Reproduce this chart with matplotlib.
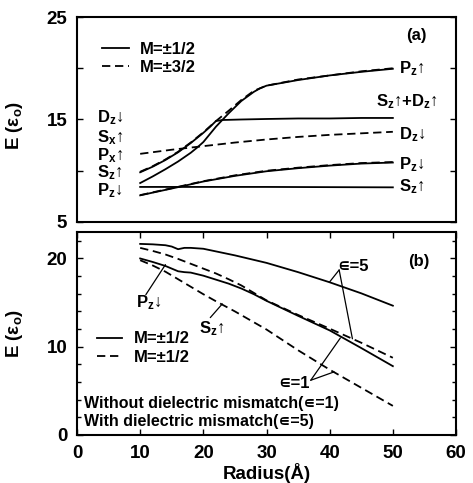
import matplotlib
matplotlib.use("Agg")
import matplotlib.pyplot as plt
from matplotlib.ticker import MultipleLocator

plt.rcParams['font.family'] = ['Liberation Sans', 'DejaVu Sans']
plt.rcParams['font.weight'] = 'bold'
plt.rcParams['mathtext.fontset'] = 'custom'
plt.rcParams['mathtext.rm'] = 'Liberation Sans:bold'
plt.rcParams['mathtext.it'] = 'Liberation Sans:bold'
plt.rcParams['mathtext.bf'] = 'Liberation Sans:bold'

# ---------------- Panel (a) data ----------------
r_pzup_d = [10, 12, 14, 16, 18, 20, 22, 24, 26, 28, 30, 35, 40, 45, 50]
pzup_m32 = [9.9, 10.45, 11.1, 11.85, 12.75, 13.75, 14.85, 15.85, 16.9, 17.8, 18.3, 18.9, 19.3, 19.7, 20.0]

r_pzup_s = [10, 12, 14, 16, 18, 19, 20, 22, 23, 24, 26, 28, 29, 30, 35, 40, 45, 50]
pzup_m12 = [8.8, 9.45, 10.15, 10.9, 11.75, 12.25, 12.8, 14.3, 14.95, 15.6, 16.8, 17.7, 18.05, 18.3, 18.85, 19.3, 19.65, 19.95]

r_sd = [10, 12, 14, 16, 18, 20, 21, 22, 23, 26, 30, 35, 40, 45, 50]
szdz_m12 = [9.85, 10.4, 11.05, 11.8, 12.7, 13.7, 14.25, 14.85, 14.95, 15.0, 15.05, 15.1, 15.1, 15.15, 15.15]

r_dz = [10, 15, 20, 25, 30, 35, 40, 45, 50]
dzdn_m32 = [11.65, 12.05, 12.4, 12.75, 13.05, 13.3, 13.5, 13.65, 13.8]

r_sz = [10, 20, 30, 40, 50]
szup_m12 = [8.42, 8.42, 8.42, 8.4, 8.38]

r_pzdn = [10, 13, 16, 20, 25, 30, 35, 40, 45, 50]
pzdn_m12 = [7.6, 8.0, 8.4, 8.95, 9.5, 9.95, 10.25, 10.5, 10.7, 10.8]
pzdn_m32 = [7.62, 8.03, 8.43, 8.98, 9.55, 10.0, 10.3, 10.55, 10.75, 10.85]

# ---------------- Panel (b) data ----------------
r_b_top = [10, 12, 14, 15, 16, 17, 18, 20, 22, 25, 30, 35, 40, 45, 50]
pzdn_eps5 = [21.65, 21.6, 21.5, 21.35, 21.05, 21.2, 21.2, 21.1, 20.8, 20.35, 19.5, 18.45, 17.3, 16.05, 14.65]

r_b_d5 = [10, 12, 14, 16, 18, 20, 22, 24, 26, 28, 30, 35, 40, 45, 50]
szup_eps5 = [21.2, 20.85, 20.45, 19.95, 19.4, 18.85, 18.3, 17.65, 16.95, 16.1, 15.25, 13.6, 12.05, 10.45, 8.75]

r_b_s1 = [10, 12, 14, 15, 16, 17, 18, 20, 22, 24, 26, 28, 30, 35, 40, 45, 50]
pzdn_eps1 = [20.0, 19.6, 19.15, 18.85, 18.55, 18.45, 18.4, 18.05, 17.6, 17.15, 16.6, 15.95, 15.2, 13.5, 11.85, 9.85, 7.8]

r_b_d1 = [10, 12, 14, 16, 18, 20, 22, 25, 30, 35, 40, 45, 50]
szup_eps1 = [19.8, 19.2, 18.5, 17.65, 16.8, 15.95, 15.15, 14.0, 11.95, 9.6, 7.4, 5.35, 3.3]

left_labels = ['D$_\\mathregular{z}$↓', 'S$_\\mathregular{x}$↑', 'P$_\\mathregular{x}$↑',
               'S$_\\mathregular{z}$↑', 'P$_\\mathregular{z}$↓']
left_label_y = [15.15, 13.2, 11.5, 9.8, 8.1]
right_labels = ['P$_\\mathregular{z}$↑', 'S$_\\mathregular{z}$↑+D$_\\mathregular{z}$↑', 'D$_\\mathregular{z}$↓',
                'P$_\\mathregular{z}$↓', 'S$_\\mathregular{z}$↑']
right_label_x = [50.9, 47.4, 50.9, 50.9, 50.9]
right_label_y = [20.0, 16.7, 13.5, 10.55, 8.45]

LW = 1.3
DASH = (4.6, 2.6)
FS_TICK = 13.5
FS_TXT = 12

fig = plt.figure(figsize=(4.73, 4.83), dpi=100)
ax1 = fig.add_axes([0.1628, 0.5404, 0.8013, 0.4244])
ax2 = fig.add_axes([0.1628, 0.0994, 0.8013, 0.4203])

# ---- panel (a) ----
l1, = ax1.plot(r_pzup_s, pzup_m12, color='black', lw=LW, label='M=±1/2')
ax1.plot(r_sd, szdz_m12, color='black', lw=LW)
ax1.plot(r_sz, szup_m12, color='black', lw=LW)
ax1.plot(r_pzdn, pzdn_m12, color='black', lw=LW)
l2, = ax1.plot(r_pzup_d, pzup_m32, color='black', lw=LW, ls=(0, DASH), label='M=±3/2')
ax1.plot(r_dz, dzdn_m32, color='black', lw=LW, ls=(0, DASH))
ax1.plot(r_pzdn, pzdn_m32, color='black', lw=LW, ls=(0, DASH))

ax1.set_xlim(0, 60)
ax1.set_ylim(5, 25)
ax1.set_yticks([5, 15, 25])
ax1.yaxis.set_minor_locator(MultipleLocator(5))
ax1.set_xticks([])
ax1.tick_params(axis='y', which='both', direction='in', right=True, length=4, width=1, pad=7, labelsize=FS_TICK)
ax1.set_ylabel('E (ε$_\\mathregular{o}$)', fontsize=FS_TICK, fontweight='bold')
ax1.yaxis.set_label_coords(-0.137, 0.47)

for lab, y in zip(left_labels, left_label_y):
    ax1.text(3.2, y, lab, fontsize=FS_TXT, ha='left', va='center')
for lab, x, y in zip(right_labels, right_label_x, right_label_y):
    ax1.text(x, y, lab, fontsize=FS_TXT, ha='left', va='center')
ax1.text(53.8, 23.2, '(a)', fontsize=FS_TXT, ha='center', va='center')

leg1 = ax1.legend(handles=[l1, l2], loc='upper left', bbox_to_anchor=(0.066, 0.88),
                  frameon=False, fontsize=FS_TXT, handlelength=1.6, handletextpad=0.7,
                  borderpad=0, borderaxespad=0, labelspacing=0.2)

# ---- panel (b) ----
m1, = ax2.plot(r_b_top, pzdn_eps5, color='black', lw=LW, label='M=±1/2')
ax2.plot(r_b_s1, pzdn_eps1, color='black', lw=LW)
m2, = ax2.plot(r_b_d5, szup_eps5, color='black', lw=LW, ls=(0, DASH), label='M=±1/2')
ax2.plot(r_b_d1, szup_eps1, color='black', lw=LW, ls=(0, DASH))

ax2.set_xlim(0, 60)
ax2.set_ylim(0, 23)
ax2.set_xticks([0, 10, 20, 30, 40, 50, 60])
ax2.set_yticks([0, 10, 20])
ax2.yaxis.set_minor_locator(MultipleLocator(2))
ax2.tick_params(axis='both', which='both', direction='in', right=True, top=True, length=4, width=1,
                pad=7, labelsize=FS_TICK)
ax2.tick_params(axis='y', which='minor', length=3)
ax2.set_ylabel('E (ε$_\\mathregular{o}$)', fontsize=FS_TICK, fontweight='bold')
ax2.yaxis.set_label_coords(-0.137, 0.5)
ax2.set_xlabel('Radius(Å)', fontsize=FS_TICK, fontweight='bold', labelpad=1)

ax2.text(54.1, 19.7, '(b)', fontsize=FS_TXT, ha='center', va='center')
ax2.text(1.1, 3.6, 'Without dielectric mismatch(∊=1)', fontsize=11.5, ha='left', va='center')
ax2.text(1.1, 1.55, 'With dielectric mismatch(∊=5)', fontsize=11.5, ha='left', va='center')

ax2.text(9.4, 15.0, 'P$_\\mathregular{z}$↓', fontsize=FS_TXT, ha='left', va='center')
ax2.annotate('', xy=(14.0, 19.3), xytext=(10.9, 15.9),
             arrowprops=dict(arrowstyle='-', color='black', lw=0.9, shrinkA=0, shrinkB=0))
ax2.text(19.3, 12.0, 'S$_\\mathregular{z}$↑', fontsize=FS_TXT, ha='left', va='center')
ax2.annotate('', xy=(23.0, 14.85), xytext=(21.1, 13.3),
             arrowprops=dict(arrowstyle='-', color='black', lw=0.9, shrinkA=0, shrinkB=0))

ax2.text(41.2, 19.1, '∊=5', fontsize=FS_TXT, ha='left', va='center')
ax2.annotate('', xy=(40.0, 17.35), xytext=(41.5, 18.7),
             arrowprops=dict(arrowstyle='-', color='black', lw=0.9, shrinkA=0, shrinkB=0))
ax2.annotate('', xy=(43.6, 10.9), xytext=(41.5, 18.7),
             arrowprops=dict(arrowstyle='-', color='black', lw=0.9, shrinkA=0, shrinkB=0))

ax2.text(36.9, 5.8, '∊=1', fontsize=FS_TXT, ha='right', va='center')
ax2.annotate('', xy=(41.7, 11.0), xytext=(37.0, 6.2),
             arrowprops=dict(arrowstyle='-', color='black', lw=0.9, shrinkA=0, shrinkB=0))
ax2.annotate('', xy=(40.7, 7.15), xytext=(37.0, 6.2),
             arrowprops=dict(arrowstyle='-', color='black', lw=0.9, shrinkA=0, shrinkB=0))

leg2 = ax2.legend(handles=[m1, m2], loc='upper left', bbox_to_anchor=(0.053, 0.51),
                  frameon=False, fontsize=FS_TXT, handlelength=1.5, handletextpad=0.7,
                  borderpad=0, borderaxespad=0, labelspacing=0.2)

for ax in (ax1, ax2):
    for s in ax.spines.values():
        s.set_linewidth(1.5)
    for t in ax.get_yticklabels() + ax.get_xticklabels():
        t.set_fontweight('bold')

fig.savefig('out.png', dpi=100)
